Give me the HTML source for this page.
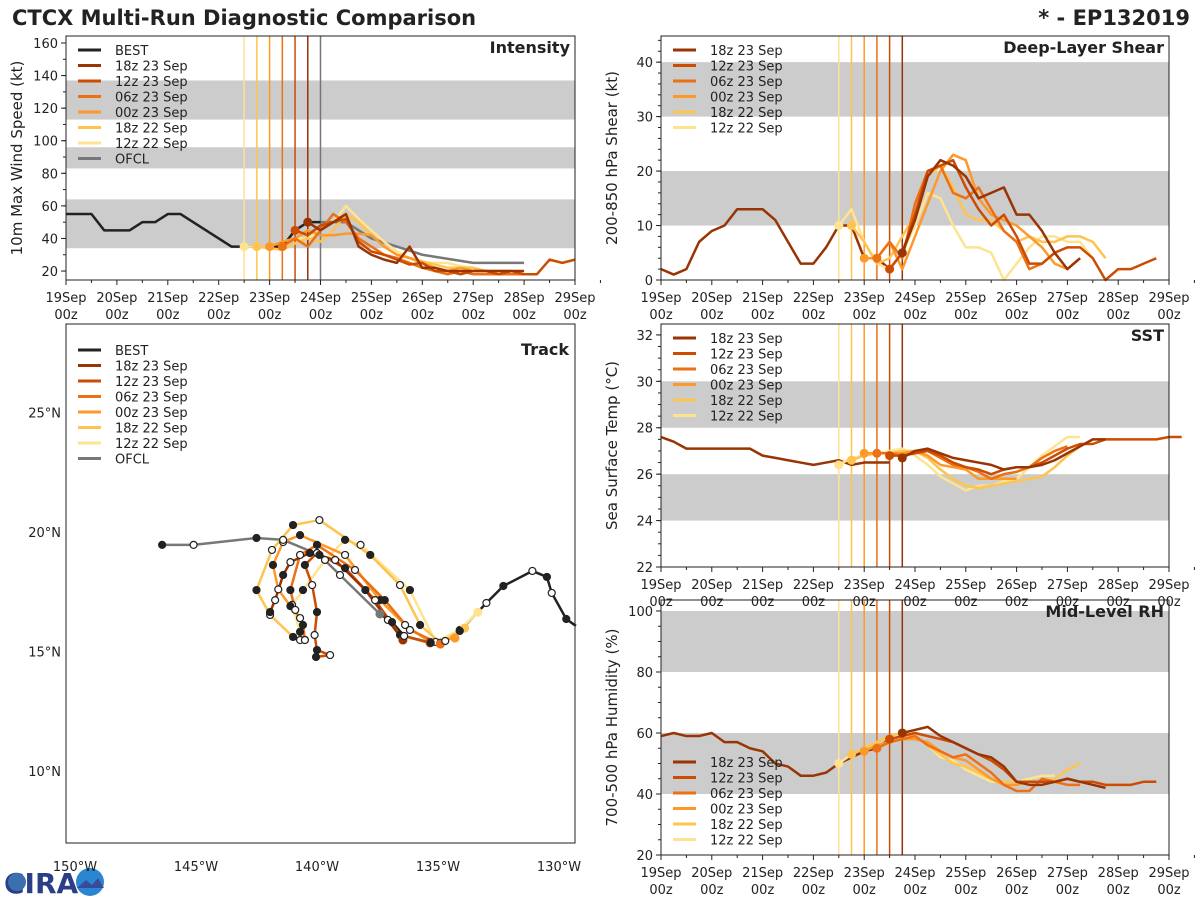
<!DOCTYPE html>
<html><head><meta charset="utf-8"><style>
body{margin:0;background:#fff;width:1200px;height:900px;overflow:hidden;font-family:"DejaVu Sans","Liberation Sans",sans-serif}
svg text{font-family:"DejaVu Sans","Liberation Sans",sans-serif;fill:#222}
</style></head><body>
<svg id="chart" width="1200" height="900" xmlns="http://www.w3.org/2000/svg">
<text x="12" y="25" font-size="21" font-weight="bold">CTCX Multi-Run Diagnostic Comparison</text>
<text x="1190" y="25" font-size="21" font-weight="bold" text-anchor="end">* - EP132019</text>
<g>
<text x="4" y="893" font-size="28" font-weight="bold" fill="#2b3f86" style="fill:#2b3f86">CIRA</text>
<circle cx="17" cy="882" r="9" fill="#3a6fb0"/>
<circle cx="90" cy="882" r="14" fill="#2a86d0"/>
<path d="M77 888 L86 880 L92 885 L98 878 L104 888 Z" fill="#3a4a9a"/>
</g>
</svg>
<script>
// ---------- DATA ----------
const runNames=['18z 23 Sep','12z 23 Sep','06z 23 Sep','00z 23 Sep','18z 22 Sep','12z 22 Sep'];
const runColors=['#993404','#cc4c02','#ec7014','#fe9929','#fec44f','#fee391'];
const runStartHours=[114,108,102,96,90,84];
const dayLabels=['19Sep','20Sep','21Sep','22Sep','23Sep','24Sep','25Sep','26Sep','27Sep','28Sep','29Sep'];
// intensity (kt), 6-hourly
const bestVmax=[55,55,55,45,45,45,50,50,55,55,50,45,40,35,35,35,35,35,45,50,50];
const ofclHours=[120,132,144,156,168,192,216];
const ofclVmax=[50,50,40,35,30,25,25];
const vmax18z23=[50,45,50,55,35,30,27,25,35,22,22,20,20,20,20,20,20,20];
const vmax12z23=[45,42,48,50,52,38,32,30,27,24,25,20,20,18,20,20,18,20,18,18,27,25,27];
const vmax06z23=[35,40,35,45,55,50,40,35,30,28,25,22,20,18,20,18,18,18,18,18];
const vmax00z23=[35,38,40,45,42,42,43,43,42,35,30,28,25,22,20,22,20,20,20,20];
const vmax18z22=[35,34,33,37,40,38,45,55,50,42,35,30,28,26,24,22,22,22,20,18,20];
const vmax12z22=[35,35,35,38,40,40,45,50,60,52,45,38,32,28,25,25,25,23,22,20,20,18];
// shear (kt)
const shearHist=[2,1,2,7,9,10,13,13,13,11,7,3,3,6,10,10,4,4,2,5];
const shear18z23=[5,11,19,22,21,19,15,16,17,12,12,9,5,2,4];
const shear12z23=[2,5,12,20,21,22,17,13,10,12,8,3,3,5,6,6,4,0,2,2,3,4];
const shear06z23=[4,7,4,14,20,21,16,15,17,13,9,7,2,3,5];
const shear00z23=[4,4,7,2,8,14,20,23,22,15,12,11,10,8,6,3,2,4];
const shear18z22=[10,7,3,4,8,12,19,21,17,12,11,11,9,7,8,7,7,8,8,7,4];
const shear12z22=[10,13,7,3,2,5,10,16,15,10,6,6,5,0,3,6,8,8,7,7,4];
// SST (C)
const sstHist=[27.6,27.4,27.1,27.1,27.1,27.1,27.1,27.1,26.8,26.7,26.6,26.5,26.4,26.5,26.6,26.4,26.5,26.5,26.5];
const sst18z23=[26.7,27.0,27.1,26.9,26.7,26.6,26.5,26.4,26.2,26.3,26.3,26.4,26.6,26.9,27.2,27.5,27.5];
const sst12z23=[26.8,26.8,26.9,27.0,26.8,26.5,26.3,26.2,26.0,26.2,26.3,26.3,26.5,26.8,27.1,27.3,27.3,27.5,27.5,27.5,27.5,27.5,27.6,27.6];
const sst06z23=[26.9,26.9,26.8,26.9,27.0,26.7,26.4,26.3,26.1,25.8,26.0,26.1,26.3,26.7,27.0,27.2];
const sst00z23=[26.9,26.9,26.9,26.9,27.0,26.8,26.4,26.3,26.2,25.8,25.8,25.8,25.8];
const sst18z22=[26.6,26.8,26.9,26.9,27.0,27.0,26.7,26.2,25.8,25.5,25.4,25.5,25.6,25.7,25.8,25.9,26.3,26.8,27.2,27.5,27.5,27.5];
const sst12z22=[26.4,26.7,26.8,26.9,27.0,27.1,26.8,26.4,25.9,25.6,25.3,25.5,25.5,25.7,25.8,26.3,26.8,27.2,27.6,27.6];
// RH (%)
const rhHist=[59,60,59,59,60,57,57,55,54,50,49,46,46,47,50,52,54,55,58,60];
const rh18z23=[60,61,62,59,57,55,53,52,49,44,43,43,44,45,44,43,42];
const rh12z23=[58,59,60,59,58,57,55,53,51,48,44,44,44,44,45,44,44,43,43,43,44,44];
const rh06z23=[55,57,58,59,56,54,52,53,50,47,43,41,41,45,44,43,43];
const rh00z23=[54,56,57,58,58,57,54,52,51,48,45,43,43,44,44];
const rh18z22=[53,55,57,59,60,59,56,53,50,49,47,45,44,44,44,44,45,48,50];
const rh12z22=[50,53,55,57,59,59,59,56,52,51,48,46,44,44,44,45,46,46];
// track (deg W lon, deg N lat)
const bestLon=[129.3,129.7,130.3,130.5,131.1,132.3,133.0,134.1,134.7,135.3,136.4,136.9,137.4];
const bestLat=[16.07,16.36,17.45,18.12,18.37,17.74,17.03,15.86,15.44,15.36,15.65,16.23,16.57];
const ofclLon=[137.4,139.05,139.9,141.4,142.5,145.1,146.4];
const ofclLat=[16.57,18.2,19.04,19.67,19.75,19.46,19.46];
const trk18z23Lon=[136.45,137.07,138.0,139.25,140.3,141.1,141.4,141.73,141.94];
const trk18z23Lat=[15.48,16.32,17.57,18.83,19.12,18.74,18.2,17.15,16.65];
const trk12z23Lon=[135.33,136.57,137.6,138.84,140.0,140.5,140.2,140.0,140.1,140.0,139.46,140.04];
const trk12z23Lat=[15.36,15.69,17.15,18.49,19.12,18.62,17.78,16.65,15.69,15.06,14.85,14.77];
const trk06z23Lon=[134.9,136.16,137.2,138.43,140.0,140.7,141.1,140.9,140.58,140.5];
const trk06z23Lat=[15.31,15.9,17.15,18.41,19.46,19.04,17.57,16.74,16.11,15.48];
const trk00z23Lon=[134.3,135.33,136.36,137.4,138.84,140.7,141.4,141.82,141.6,141.1,140.7];
const trk00z23Lat=[15.56,15.4,16.11,17.15,19.04,19.87,19.58,18.62,17.6,16.9,16.4];
const trk18z22Lon=[133.9,134.9,135.74,136.57,137.8,139.9,140.99,141.86,142.5,141.94,140.99,140.7];
const trk18z22Lat=[15.98,15.36,16.11,17.78,19.04,20.5,20.29,19.25,17.57,16.53,15.61,15.48];
const trk12z22Lon=[133.35,134.1,135.1,136.16,138.2,138.84,139.67,140.58,141.03,140.7,140.5];
const trk12z22Lat=[16.65,15.9,15.4,17.57,19.46,19.67,18.83,17.57,16.95,15.82,15.48];
const lonTicks=[150,145,140,135,130];
const latTicks=[10,15,20,25];

// ---------- HELPERS ----------
const NS='http://www.w3.org/2000/svg';
const svg=document.getElementById('chart');
function mk(tag,attrs,parent){const e=document.createElementNS(NS,tag);for(const k in attrs)e.setAttribute(k,attrs[k]);(parent||svg).appendChild(e);return e;}
function txt(x,y,s,size,anchor,parent,extra){const t=mk('text',Object.assign({x:x,y:y,'font-size':size,'text-anchor':anchor||'start'},extra||{}),parent);t.textContent=s;return t;}

function timePanel(cfg){
  const g=mk('g',{});
  
  
  const X=h=>cfg.x0+(h/240)*(cfg.x1-cfg.x0);
  const Y=v=>cfg.y1-(v-cfg.ymin)/(cfg.ymax-cfg.ymin)*(cfg.y1-cfg.y0);
  cfg.bands.forEach(b=>{
    const r=mk('rect',{x:cfg.x0,y:Y(Math.min(b[1],cfg.ymax)),width:cfg.x1-cfg.x0,height:Y(b[0])-Y(Math.min(b[1],cfg.ymax)),fill:'#cccccc'},g);
    
    
  });
  // vertical run lines
  runStartHours.forEach((h,i)=>{
    const l=mk('line',{x1:X(h),x2:X(h),y1:cfg.y0,y2:cfg.y1,stroke:runColors[i],'stroke-width':1.5},g);
    
    
  });
  if(cfg.ofcl){const l=mk('line',{x1:X(120),x2:X(120),y1:cfg.y0,y2:cfg.y1,stroke:'#777','stroke-width':1.5},g);
    
    }
  function series(hours,vals,color,nm,w){
    const pts=vals.map((v,k)=>X(hours[k])+','+Y(v)).join(' ');
    const p=mk('polyline',{points:pts,fill:'none',stroke:color,'stroke-width':w||2.5,'stroke-linejoin':'round'},g);
    
    
  }
  const hist=cfg.hist.map((v,k)=>k*6);
  series(hist,cfg.hist,cfg.histColor,cfg.name+'-history');
  if(cfg.ofcl) series(ofclHours,ofclVmax,'#777','ofcl-line');
  for(let i=cfg.runs.length-1;i>=0;i--){
    const vals=cfg.runs[i];const hrs=vals.map((v,k)=>runStartHours[i]+k*6);
    series(hrs,vals,runColors[i],cfg.name+'-run-'+i);
  }
  for(let i=cfg.runs.length-1;i>=0;i--){
    const c=mk('circle',{cx:X(runStartHours[i]),cy:Y(cfg.runs[i][0]),r:4.5,fill:runColors[i]},g);
    
    
  }
  mk('rect',{x:cfg.x0,y:cfg.y0,width:cfg.x1-cfg.x0,height:cfg.y1-cfg.y0,fill:'none',stroke:'#222','stroke-width':1},g);
  // y ticks
  for(let v=cfg.tick0;v<=cfg.ymax+1e-6;v+=cfg.tickStep){
    mk('line',{x1:cfg.x0-5,x2:cfg.x0,y1:Y(v),y2:Y(v),stroke:'#222'},g);
    const t=txt(cfg.x0-8,Y(v)+5,String(v),13,'end',g);
    
    
  }
  for(let v=cfg.tick0-cfg.tickStep;v<=cfg.ymax;v+=cfg.tickStep/cfg.minor){
    if(v<cfg.ymin)continue;
    mk('line',{x1:cfg.x0-3,x2:cfg.x0,y1:Y(v),y2:Y(v),stroke:'#222'},g);
  }
  // x ticks
  dayLabels.forEach((d,k)=>{
    const x=X(k*24);
    mk('line',{x1:x,x2:x,y1:cfg.y1,y2:cfg.y1+5,stroke:'#222'},g);
    mk('line',{x1:X(k*24+12),x2:X(k*24+12),y1:cfg.y1,y2:cfg.y1+3,stroke:'#222'},g);
    const t=txt(x,cfg.y1+22,d,13,'middle',g);
    
    
    const t2=txt(x,cfg.y1+39,'00z',13,'middle',g);
    
    
  });
  const ya=txt(0,0,cfg.ylabel,15,'middle',g,{transform:`translate(${cfg.x0-44},${(cfg.y0+cfg.y1)/2}) rotate(-90)`});
  
  
  const tt=txt(cfg.x1-5,cfg.y0+17,cfg.title,16,'end',g,{'font-weight':'bold'});
  
  
  legend(cfg.legendX,cfg.legendY,cfg.legendBest,g);
}
function legend(x,y,withBest,parent){
  const g=mk('g',{},parent);
  
  
  const items=[];
  if(withBest)items.push(['BEST','#222']);
  runNames.forEach((n,i)=>items.push([n,runColors[i]]));
  if(withBest)items.push(['OFCL','#777']);
  items.forEach((it,k)=>{
    const yy=y+k*15.5;
    const e=mk('g',{},g);
    
    
    mk('line',{x1:x,x2:x+23,y1:yy,y2:yy,stroke:it[1],'stroke-width':3},e);
    txt(x+37,yy+5,it[0],13,'start',e);
  });
}
timePanel({name:'intensity',x0:66,x1:575,y0:36,y1:280,ymin:14.5,ymax:164.3,tick0:20,tickStep:20,minor:2,
  bands:[[34,64],[83,96],[113,137]],hist:bestVmax,histColor:'#222',ofcl:true,
  runs:[vmax18z23,vmax12z23,vmax06z23,vmax00z23,vmax18z22,vmax12z22],
  ylabel:'10m Max Wind Speed (kt)',title:'Intensity',legendX:78,legendY:50,legendBest:true});
timePanel({name:'shear',x0:661,x1:1169,y0:36,y1:280,ymin:0,ymax:44.8,tick0:0,tickStep:10,minor:5,
  bands:[[10,20],[30,40]],hist:shearHist,histColor:'#993404',ofcl:false,
  runs:[shear18z23,shear12z23,shear06z23,shear00z23,shear18z22,shear12z22],
  ylabel:'200-850 hPa Shear (kt)',title:'Deep-Layer Shear',legendX:673,legendY:50,legendBest:false});
timePanel({name:'sst',x0:661,x1:1169,y0:324,y1:567,ymin:22,ymax:32.47,tick0:22,tickStep:2,minor:4,
  bands:[[24,26],[28,30]],hist:sstHist,histColor:'#993404',ofcl:false,
  runs:[sst18z23,sst12z23,sst06z23,sst00z23,sst18z22,sst12z22],
  ylabel:'Sea Surface Temp (°C)',title:'SST',legendX:673,legendY:338,legendBest:false});
timePanel({name:'rh',x0:661,x1:1169,y0:600,y1:855,ymin:20,ymax:103.6,tick0:20,tickStep:20,minor:4,
  bands:[[40,60],[80,100]],hist:rhHist,histColor:'#993404',ofcl:false,
  runs:[rh18z23,rh12z23,rh06z23,rh00z23,rh18z22,rh12z22],
  ylabel:'700-500 hPa Humidity (%)',title:'Mid-Level RH',legendX:673,legendY:762,legendBest:false});

// ---------- TRACK ----------
(function(){
  const x0=66,x1=575,y0=324,y1=843;
  const LX=lon=>377.5+(137.5-lon)*24.2;
  const LY=lat=>532-(lat-20)*23.9;
  const g=mk('g',{});
  
  
  function path(lons,lats,color,nm){
    const pts=lons.map((v,k)=>LX(v)+','+LY(lats[k])).join(' ');
    const p=mk('polyline',{points:pts,fill:'none',stroke:color,'stroke-width':2.5,'stroke-linejoin':'round'},g);
    
    
  }
  function dots(lons,lats,start){
    lons.forEach((v,k)=>{ if(k===0)return;
      const c=mk('circle',{cx:LX(v),cy:LY(lats[k]),r:3.5,fill:((k+start)%2)?'#fff':'#222',stroke:'#222','stroke-width':1.2},g);
      
      
    });
  }
  const tl=[trk18z23Lon,trk12z23Lon,trk06z23Lon,trk00z23Lon,trk18z22Lon,trk12z22Lon];
  const tt=[trk18z23Lat,trk12z23Lat,trk06z23Lat,trk00z23Lat,trk18z22Lat,trk12z22Lat];
  path(bestLon,bestLat,'#222','best-track');
  path(ofclLon,ofclLat,'#777','ofcl-track');
  for(let i=5;i>=0;i--)path(tl[i],tt[i],runColors[i],'run-track-'+i);
  for(let i=5;i>=0;i--){
    dots(tl[i],tt[i],i);
    const c=mk('circle',{cx:LX(tl[i][0]),cy:LY(tt[i][0]),r:4.5,fill:runColors[i]},g);
    
    
  }
  dots(bestLon,bestLat,1);
  dots(ofclLon,ofclLat,0);
  mk('circle',{cx:LX(ofclLon[0]),cy:LY(ofclLat[0]),r:4.5,fill:'#777'},g);
  mk('rect',{x:x0,y:y0,width:x1-x0,height:y1-y0,fill:'none',stroke:'#222','stroke-width':1},g);
  lonTicks.forEach(v=>{
    const t=txt(LX(v),871,v+'°W',13,'middle',g);
    
    
  });
  latTicks.forEach(v=>{
    const t=txt(61,LY(v)+5,v+'°N',13,'end',g);
    
    
  });
  const ti=txt(569,355,'Track',16,'end',g,{'font-weight':'bold'});
  
  
  legend(78,350,true,g);
})();
</script>
</body></html>
